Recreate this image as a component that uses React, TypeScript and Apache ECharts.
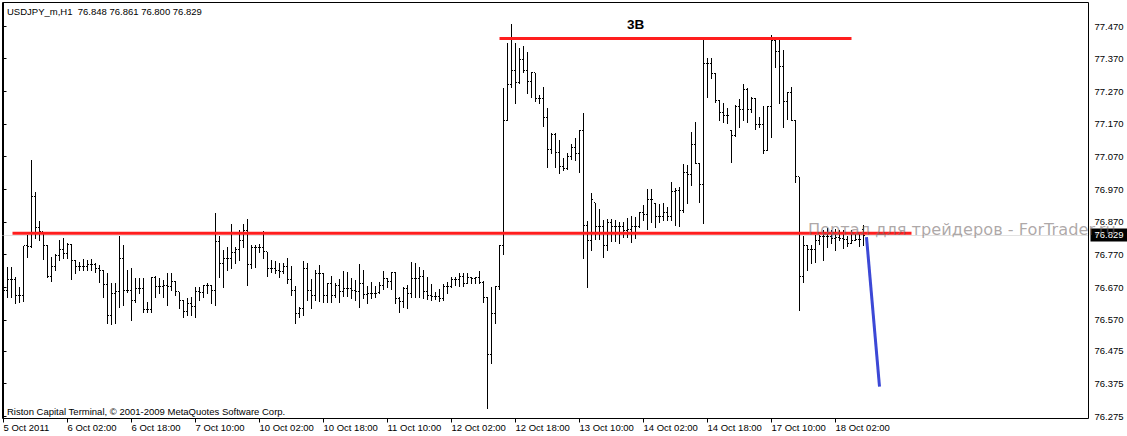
import React, { useEffect, useRef } from 'react';
import * as echarts from 'echarts';

// USDJPY_m, H1 — one entry per hourly bar (bar 0 = 5 Oct 2011 10:00)
const opens = [
  76.700, 76.659, 76.692, 76.692, 76.644, 76.644, 76.797, 76.794, 76.947, 76.853,
  76.840, 76.799, 76.704, 76.732, 76.768, 76.786, 76.773, 76.801, 76.753, 76.732,
  76.732, 76.732, 76.738, 76.738, 76.728, 76.722, 76.678, 76.584, 76.651, 76.656,
  76.758, 76.661, 76.661, 76.630, 76.666, 76.666, 76.600, 76.600, 76.699, 76.671,
  76.671, 76.676, 76.671, 76.686, 76.656, 76.628, 76.595, 76.620, 76.612, 76.656,
  76.653, 76.674, 76.674, 76.661, 76.809, 76.743, 76.758, 76.758, 76.775, 76.786,
  76.814, 76.843, 76.738, 76.791, 76.791, 76.791, 76.778, 76.728, 76.728, 76.720,
  76.717, 76.732, 76.692, 76.661, 76.590, 76.605, 76.728, 76.661, 76.643, 76.712,
  76.712, 76.643, 76.682, 76.643, 76.676, 76.658, 76.666, 76.666, 76.661, 76.658,
  76.682, 76.646, 76.651, 76.651, 76.653, 76.676, 76.695, 76.686, 76.714, 76.636,
  76.625, 76.666, 76.649, 76.697, 76.697, 76.704, 76.656, 76.644, 76.641, 76.641,
  76.636, 76.671, 76.671, 76.692, 76.692, 76.702, 76.682, 76.700, 76.697, 76.700,
  76.683, 76.639, 76.464, 76.590, 76.671, 76.796, 77.182, 77.292, 77.335, 77.296,
  77.368, 77.333, 77.301, 77.327, 77.248, 77.248, 77.189, 77.092, 77.139, 77.082,
  77.041, 77.034, 77.069, 77.098, 77.078, 77.151, 76.860, 76.814, 76.929, 76.855,
  76.855, 76.799, 76.869, 76.857, 76.857, 76.855, 76.842, 76.848, 76.855, 76.855,
  76.898, 76.891, 76.937, 76.927, 76.886, 76.886, 76.898, 76.886, 76.962, 76.967,
  76.906, 77.020, 77.016, 77.108, 77.049, 76.983, 77.356, 77.356, 77.323, 77.241,
  77.204, 77.197, 77.151, 77.136, 77.223, 77.215, 77.276, 77.213, 77.248, 77.167,
  77.167, 77.090, 77.223, 77.427, 77.391, 77.347, 77.238, 77.267, 77.182, 77.008,
  76.704, 76.796, 76.784, 76.784, 76.812, 76.824, 76.826, 76.826, 76.819, 76.823,
  76.819, 76.816, 76.804, 76.814, 76.816, 76.848,
];
const highs = [
  76.763, 76.731, 76.732, 76.700, 76.671, 76.797, 76.830, 77.059, 76.962, 76.872,
  76.840, 76.799, 76.763, 76.773, 76.814, 76.819, 76.804, 76.801, 76.753, 76.748,
  76.755, 76.753, 76.756, 76.743, 76.738, 76.722, 76.712, 76.682, 76.683, 76.826,
  76.799, 76.722, 76.728, 76.697, 76.697, 76.697, 76.625, 76.702, 76.704, 76.699,
  76.692, 76.712, 76.714, 76.689, 76.656, 76.630, 76.636, 76.641, 76.671, 76.671,
  76.676, 76.682, 76.676, 76.898, 76.826, 76.784, 76.794, 76.863, 76.794, 76.845,
  76.863, 76.879, 76.799, 76.799, 76.801, 76.842, 76.778, 76.753, 76.751, 76.743,
  76.745, 76.760, 76.735, 76.673, 76.610, 76.750, 76.743, 76.695, 76.722, 76.738,
  76.712, 76.683, 76.704, 76.682, 76.694, 76.720, 76.717, 76.697, 76.692, 76.741,
  76.722, 76.673, 76.686, 76.673, 76.686, 76.719, 76.697, 76.717, 76.717, 76.641,
  76.671, 76.676, 76.748, 76.745, 76.732, 76.722, 76.702, 76.679, 76.656, 76.664,
  76.679, 76.686, 76.702, 76.700, 76.712, 76.714, 76.712, 76.700, 76.702, 76.719,
  76.690, 76.641, 76.671, 76.673, 76.799, 77.281, 77.419, 77.476, 77.417, 77.402,
  77.409, 77.391, 77.330, 77.327, 77.259, 77.282, 77.218, 77.141, 77.141, 77.121,
  77.065, 77.082, 77.107, 77.126, 77.151, 77.202, 76.873, 76.959, 76.929, 76.908,
  76.877, 76.878, 76.879, 76.876, 76.870, 76.870, 76.881, 76.888, 76.886, 76.901,
  76.921, 76.970, 76.970, 76.927, 76.925, 76.929, 76.916, 76.993, 76.973, 76.978,
  77.047, 77.044, 77.146, 77.177, 77.049, 77.427, 77.371, 77.371, 77.325, 77.243,
  77.233, 77.218, 77.151, 77.228, 77.245, 77.292, 77.279, 77.253, 77.248, 77.190,
  77.225, 77.225, 77.442, 77.437, 77.432, 77.396, 77.268, 77.283, 77.182, 77.008,
  76.826, 76.799, 76.799, 76.830, 76.830, 76.845, 76.850, 76.845, 76.847, 76.845,
  76.845, 76.826, 76.845, 76.840, 76.835, 76.861,
];
const lows = [
  76.622, 76.641, 76.641, 76.622, 76.625, 76.628, 76.763, 76.794, 76.819, 76.814,
  76.755, 76.702, 76.689, 76.722, 76.753, 76.758, 76.758, 76.694, 76.712, 76.722,
  76.722, 76.722, 76.722, 76.717, 76.686, 76.641, 76.559, 76.557, 76.561, 76.610,
  76.615, 76.656, 76.569, 76.625, 76.651, 76.595, 76.595, 76.595, 76.641, 76.651,
  76.641, 76.615, 76.661, 76.646, 76.605, 76.579, 76.584, 76.584, 76.579, 76.630,
  76.641, 76.651, 76.620, 76.615, 76.702, 76.671, 76.722, 76.728, 76.743, 76.753,
  76.794, 76.676, 76.728, 76.732, 76.778, 76.758, 76.704, 76.717, 76.712, 76.702,
  76.712, 76.682, 76.646, 76.561, 76.577, 76.584, 76.630, 76.605, 76.630, 76.628,
  76.625, 76.625, 76.623, 76.641, 76.623, 76.643, 76.644, 76.637, 76.630, 76.610,
  76.636, 76.622, 76.636, 76.641, 76.653, 76.663, 76.671, 76.663, 76.620, 76.595,
  76.608, 76.605, 76.641, 76.641, 76.641, 76.637, 76.633, 76.630, 76.633, 76.628,
  76.630, 76.651, 76.671, 76.676, 76.673, 76.673, 76.682, 76.682, 76.683, 76.683,
  76.625, 76.299, 76.438, 76.561, 76.663, 76.773, 77.182, 77.284, 77.235, 77.294,
  77.330, 77.264, 77.253, 77.241, 77.233, 77.164, 77.039, 77.080, 77.039, 77.019,
  77.029, 77.031, 77.061, 77.059, 77.024, 76.758, 76.669, 76.784, 76.818, 76.818,
  76.763, 76.785, 76.811, 76.812, 76.804, 76.824, 76.824, 76.809, 76.819, 76.855,
  76.876, 76.847, 76.870, 76.855, 76.870, 76.876, 76.876, 76.876, 76.860, 76.857,
  76.901, 76.927, 76.983, 77.049, 76.932, 76.867, 77.253, 77.310, 77.238, 77.182,
  77.177, 77.172, 77.054, 77.133, 77.161, 77.182, 77.177, 77.207, 77.153, 77.161,
  77.080, 77.090, 77.129, 77.345, 77.235, 77.161, 77.185, 77.182, 76.993, 76.600,
  76.686, 76.722, 76.743, 76.748, 76.802, 76.753, 76.794, 76.804, 76.784, 76.814,
  76.789, 76.796, 76.804, 76.814, 76.796, 76.800,
];
const closes = [
  76.659, 76.692, 76.692, 76.644, 76.644, 76.797, 76.793, 76.947, 76.853, 76.840,
  76.799, 76.704, 76.732, 76.768, 76.786, 76.773, 76.802, 76.753, 76.732, 76.732,
  76.732, 76.738, 76.738, 76.728, 76.722, 76.678, 76.584, 76.651, 76.656, 76.758,
  76.661, 76.661, 76.630, 76.666, 76.666, 76.600, 76.600, 76.699, 76.671, 76.671,
  76.676, 76.671, 76.686, 76.656, 76.628, 76.595, 76.620, 76.612, 76.656, 76.653,
  76.674, 76.674, 76.661, 76.809, 76.743, 76.758, 76.758, 76.775, 76.786, 76.814,
  76.843, 76.738, 76.791, 76.791, 76.791, 76.778, 76.728, 76.728, 76.720, 76.717,
  76.732, 76.692, 76.661, 76.590, 76.605, 76.728, 76.661, 76.643, 76.712, 76.712,
  76.643, 76.682, 76.643, 76.676, 76.658, 76.666, 76.666, 76.661, 76.658, 76.682,
  76.646, 76.651, 76.651, 76.649, 76.676, 76.695, 76.686, 76.714, 76.636, 76.625,
  76.666, 76.649, 76.697, 76.697, 76.704, 76.656, 76.644, 76.641, 76.641, 76.636,
  76.671, 76.671, 76.692, 76.692, 76.702, 76.682, 76.700, 76.697, 76.700, 76.683,
  76.639, 76.464, 76.590, 76.671, 76.796, 77.182, 77.292, 77.335, 77.296, 77.368,
  77.333, 77.301, 77.327, 77.248, 77.248, 77.189, 77.092, 77.139, 77.082, 77.041,
  77.034, 77.069, 77.098, 77.078, 77.151, 76.860, 76.814, 76.937, 76.855, 76.855,
  76.799, 76.869, 76.857, 76.857, 76.855, 76.842, 76.848, 76.855, 76.855, 76.898,
  76.891, 76.937, 76.937, 76.886, 76.886, 76.898, 76.886, 76.962, 76.967, 76.906,
  77.020, 77.016, 77.108, 77.049, 76.983, 77.356, 77.356, 77.323, 77.241, 77.204,
  77.197, 77.197, 77.136, 77.223, 77.215, 77.276, 77.213, 77.248, 77.167, 77.167,
  77.090, 77.223, 77.427, 77.391, 77.347, 77.238, 77.267, 77.182, 77.008, 76.704,
  76.796, 76.784, 76.784, 76.812, 76.824, 76.826, 76.826, 76.819, 76.823, 76.819,
  76.816, 76.804, 76.814, 76.816, 76.816, 76.829,
];

const timeTickIndex = [0, 16, 32, 48, 64, 80, 96, 112, 128, 144, 160, 176, 192, 208];
const timeTickLabels = [
  '5 Oct 2011', '6 Oct 02:00', '6 Oct 18:00', '7 Oct 10:00', '10 Oct 02:00', '10 Oct 18:00',
  '11 Oct 10:00', '12 Oct 02:00', '12 Oct 18:00', '13 Oct 10:00', '14 Oct 02:00',
  '14 Oct 18:00', '17 Oct 10:00', '18 Oct 02:00',
];
const priceTicks = [
  77.470, 77.370, 77.270, 77.170, 77.070, 76.970, 76.870, 76.770, 76.670, 76.570,
  76.475, 76.375, 76.275,
];

// drawn objects: [bar index, price]
const resistanceLine = [[124, 77.432], [212, 77.432]];
const supportLine = [[2.25, 76.835], [227, 76.835]];
const forecastLine = [[215.75, 76.823], [219, 76.365]];
const bidPrice = 76.829;
const headerText = 'USDJPY_m,H1\u00a0\u00a076.848 76.861 76.800 76.829';
const footerText = 'Riston Capital Terminal, \u00a9 2001-2009 MetaQuotes Software Corp.';
const watermarkText = 'Портал для трейдеров - ForTrader.ru';
const patternLabel = '3B';

const FONT = '"Liberation Sans", Arial, sans-serif';

export default function App() {
  const ref = useRef<HTMLDivElement>(null);
  useEffect(() => {
    if (!ref.current) return;
    const chart = echarts.init(ref.current, null, { renderer: 'svg' });
    const bars = opens.map((o, i) => [i, o, highs[i], lows[i], closes[i]]);
    const option: any = {
      animation: false,
      backgroundColor: '#ffffff',
      grid: {
        left: 2.5, right: 38.5, top: 2.5, bottom: 17.5,
        show: true, borderColor: '#000', borderWidth: 1, backgroundColor: 'transparent',
        outerBoundsMode: 'none', containLabel: false,
      },
      xAxis: {
        type: 'value', min: -0.25, max: 271.25,
        axisLine: { show: false },
        splitLine: { show: false },
        axisTick: { show: true, customValues: timeTickIndex, length: 4, lineStyle: { color: '#000', width: 1 } },
        axisLabel: {
          customValues: timeTickIndex,
          formatter: (v: number) => {
            const k = timeTickIndex.indexOf(Math.round(v));
            return k >= 0 ? timeTickLabels[k] : '';
          },
          align: 'left', color: '#000', fontSize: 9.5, fontFamily: FONT, margin: 4,
        },
      },
      yAxis: {
        type: 'value', position: 'right', min: 76.2675, max: 77.542, scale: true,
        axisLine: { show: true, lineStyle: { color: '#000', width: 1 } },
        splitLine: { show: false },
        axisTick: { show: true, customValues: priceTicks, length: 3, lineStyle: { color: '#000' } },
        axisLabel: {
          customValues: priceTicks,
          formatter: (v: number) => v.toFixed(3),
          color: '#000', fontSize: 9.5, fontFamily: FONT, margin: 6,
        },
      },
      series: [
        {
          type: 'custom',
          z: 3,
          clip: true,
          data: bars,
          encode: { x: 0, y: [1, 2, 3, 4] },
          renderItem: (params: any, api: any) => {
            const i = api.value(0);
            const pO = api.coord([i, api.value(1)]);
            const pH = api.coord([i, api.value(2)]);
            const pL = api.coord([i, api.value(3)]);
            const pC = api.coord([i, api.value(4)]);
            const x = Math.floor(pH[0]) + 0.5;
            const yH = Math.round(pH[1]);
            const yL = Math.round(pL[1]);
            const yO = Math.floor(pO[1]) + 0.5;
            const yC = Math.floor(pC[1]) + 0.5;
            const st = { stroke: '#000', lineWidth: 1 };
            return {
              type: 'group',
              children: [
                { type: 'line', shape: { x1: x, y1: yH, x2: x, y2: yL + 1 }, style: st },
                { type: 'line', shape: { x1: x - 1.5, y1: yO, x2: x - 0.5, y2: yO }, style: st },
                { type: 'line', shape: { x1: x + 0.5, y1: yC, x2: x + 1.5, y2: yC }, style: st },
              ],
            };
          },
          markLine: {
            silent: true,
            symbol: ['none', 'none'],
            z: 1,
            data: [{ yAxis: bidPrice }],
            lineStyle: { color: '#c4c4c4', type: 'dotted', width: 1 },
            label: {
              show: true, position: 'end', distance: 2,
              formatter: bidPrice.toFixed(3),
              backgroundColor: '#000', color: '#fff', padding: [2, 4, 1, 4],
              fontSize: 9.5, fontFamily: FONT,
            },
          },
        },
        {
          type: 'line', z: 5, data: supportLine, symbol: 'none', silent: true,
          lineStyle: { color: '#ff1e1e', width: 3 },
        },
        {
          type: 'line', z: 5, data: resistanceLine, symbol: 'none', silent: true,
          lineStyle: { color: '#ff1e1e', width: 3 },
        },
        {
          type: 'line', z: 6, data: forecastLine, symbol: 'none', silent: true,
          lineStyle: { color: '#3c48d6', width: 3 },
        },
      ],
      graphic: [
        {
          type: 'text', x: 7, y: 11, z: 50,
          style: { text: headerText, font: `9.5px ${FONT}`, fill: '#000', verticalAlign: 'middle' },
        },
        {
          type: 'text', x: 7, y: 411, z: 50,
          style: { text: footerText, font: `9.5px ${FONT}`, fill: '#000', verticalAlign: 'middle' },
        },
        {
          type: 'text', x: 627, y: 24, z: 50,
          style: { text: patternLabel, font: `bold 13.5px ${FONT}`, fill: '#000', verticalAlign: 'middle' },
        },
        {
          type: 'text', x: 808, y: 229, z: 100,
          style: {
            text: watermarkText, font: '16.2px "DejaVu Sans", sans-serif',
            fill: 'rgba(120,110,110,0.6)', verticalAlign: 'middle',
          },
        },
      ],
    };
    chart.setOption(option);
    return () => chart.dispose();
  }, []);
  return (
    <div
      ref={ref}
      style={{ position: 'fixed', left: 0, top: 0, width: 1127, height: 436 }}
    />
  );
}
